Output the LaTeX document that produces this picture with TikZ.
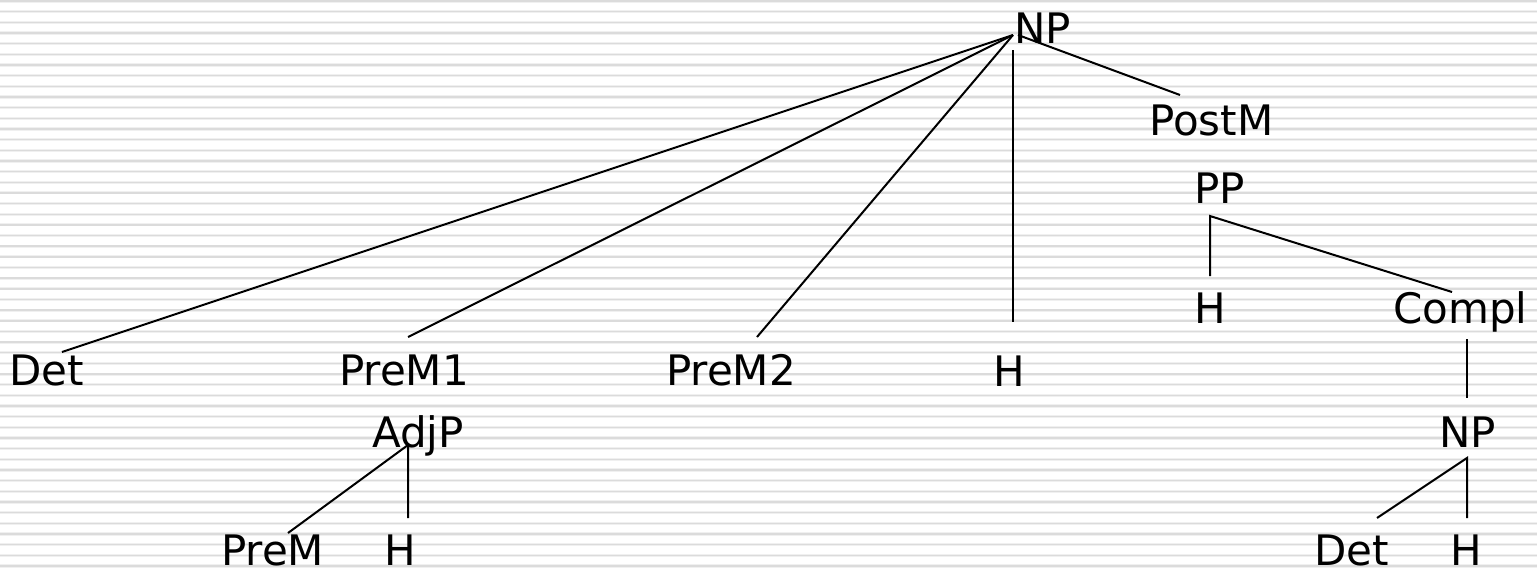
\documentclass[tikz,border=0pt]{standalone}
\usepackage{fontspec}
\setmainfont{DejaVu Sans}
\tikzset{
  lbl/.style={anchor=base west, inner sep=0pt, text depth=0pt, font=\fontsize{42}{50}\selectfont},
  edge/.style={line width=2pt, black},
  rule/.style={line width=1.4pt, draw=black!14},
  halo/.style={line width=3.2pt, draw=black!6}
}
\begin{document}
\begin{tikzpicture}[x=1pt,y=-1pt]
\useasboundingbox (0,0) rectangle (1537,574);
\fill[white] (0,0) rectangle (1537,574);
% lined background
\foreach \k in {0,...,53} {
  \draw[halo] (0,{1+10.66*\k}) -- (1537,{1+10.66*\k});
  \draw[rule] (0,{1+10.66*\k}) -- (1537,{1+10.66*\k});
}
% labels
\node[lbl] (np)     at (1014,43)  {NP};
\node[lbl] (postm)  at (1149,135) {PostM};
\node[lbl] (pp)     at (1194,203) {PP};
\node[lbl] (hpp)    at (1194,323) {H};
\node[lbl] (compl)  at (1393,323) {Compl};
\node[lbl] (det)    at (9,385)    {Det};
\node[lbl] (prem1)  at (339,385)  {PreM1};
\node[lbl] (prem2)  at (666,385)  {PreM2};
\node[lbl] (h)      at (993,386)  {H};
\node[lbl] (adjp)   at (372,447)  {AdjP};
\node[lbl] (np2)    at (1439,447) {NP};
\node[lbl] (prem)   at (221,565)  {PreM};
\node[lbl] (hadj)   at (384,565)  {H};
\node[lbl] (det2)   at (1314,565) {Det};
\node[lbl] (hnp)    at (1450,565) {H};
% connector end points
\coordinate (apex)   at (1013,35);
\coordinate (apexr)  at (1018,35);
\coordinate (cdet)   at (62,352);
\coordinate (cprem1) at (408,337);
\coordinate (cprem2) at (757,337);
\coordinate (htop)   at (1013,50);
\coordinate (hbot)   at (1013,322);
\coordinate (cpostm) at (1180,95);
\coordinate (ppapex) at (1210,216);
\coordinate (cpph)   at (1210,276);
\coordinate (ccompl) at (1452,292);
\coordinate (compld) at (1467,339);
\coordinate (cnp2)   at (1467,398);
\coordinate (npapex) at (1467,458);
\coordinate (cdet2)  at (1377,518);
\coordinate (chnp)   at (1467,518);
\coordinate (adjapex) at (408,445);
\coordinate (chadj)  at (408,518);
\coordinate (cprem)  at (288,533);
% connectors
\draw[edge] (apex) -- (cdet);
\draw[edge] (apex) -- (cprem1);
\draw[edge] (apex) -- (cprem2);
\draw[edge] (htop) -- (hbot);
\draw[edge] (apexr) -- (cpostm);
\draw[edge] (cpph) -- (ppapex) -- (ccompl);
\draw[edge] (compld) -- (cnp2);
\draw[edge] (cdet2) -- (npapex) -- (chnp);
\draw[edge] (cprem) -- (adjapex) -- (chadj);
\end{tikzpicture}
\end{document}
